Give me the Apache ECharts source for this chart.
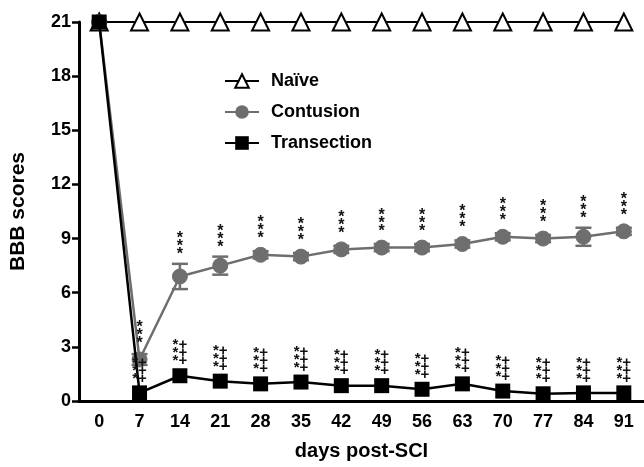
<!DOCTYPE html>
<html>
<head>
<meta charset="utf-8">
<script src="https://cdn.jsdelivr.net/npm/echarts@6/dist/echarts.min.js"></script>
<style>
  html, body { margin: 0; padding: 0; background: #fff; }
  #chart { width: 644px; height: 467px; }
</style>
</head>
<body>
<div id="chart"></div>
<script>
const days = ['0', '7', '14', '21', '28', '35', '42', '49', '56', '63', '70', '77', '84', '91']
const naive = [21, 21, 21, 21, 21, 21, 21, 21, 21, 21, 21, 21, 21, 21]
const contusion = [21, 2.3, 6.9, 7.5, 8.1, 8.0, 8.4, 8.5, 8.5, 8.7, 9.1, 9.0, 9.1, 9.4]
const contusionErr = [0, 0.3, 0.7, 0.5, 0.2, 0.2, 0.2, 0.2, 0.2, 0.2, 0.2, 0.2, 0.5, 0.2]
const transection = [21, 0.45, 1.4, 1.1, 0.95, 1.05, 0.85, 0.85, 0.65, 0.95, 0.55, 0.4, 0.45, 0.45]

const FONT = '"Liberation Sans", Arial, sans-serif'
const GRAY = '#6e6e6e'

const chart = echarts.init(document.getElementById('chart'))

// stars above contusion points, stars + plusses above transection points
const starLabel = (text, extra) => ({
  show: true,
  position: 'top',
  formatter: text,
  color: '#111',
  fontFamily: FONT,
  fontWeight: 'bold',
  fontSize: 16,
  lineHeight: 8,
  ...extra
})

const contusionData = contusion.map((v, i) => ({
  value: v,
  label: i === 0 ? { show: false } : starLabel('*\n*\n*', { distance: Math.max(4, contusionErr[i] * 18 - 3) })
}))

const transectionData = transection.map((v, i) => ({
  value: v,
  label: i === 0 ? { show: false } : starLabel('*+\n*+\n*+', { distance: 3, fontSize: 15 })
}))

const errData = contusion.map((v, i) => [i, v - contusionErr[i], v + contusionErr[i]])

const option = {
  animation: false,
  grid: { left: 77, right: 0, top: 22, bottom: 66 },
  legend: {
    data: ['Naïve', 'Contusion', 'Transection'],
    orient: 'vertical',
    left: 219,
    top: 67,
    itemWidth: 34,
    itemHeight: 17,
    itemGap: 13,
    textStyle: { fontFamily: FONT, fontWeight: 'bold', fontSize: 18, color: '#000', padding: [0, 0, 0, 7] }
  },
  xAxis: {
    type: 'category',
    data: days,
    boundaryGap: true,
    name: 'days post-SCI',
    nameLocation: 'middle',
    nameGap: 40,
    nameTextStyle: { fontFamily: FONT, fontWeight: 'bold', fontSize: 20, color: '#000' },
    axisLine: { lineStyle: { color: '#000', width: 3 } },
    axisTick: { alignWithLabel: true, length: 8, lineStyle: { width: 2.5, color: '#000' } },
    axisLabel: { fontFamily: FONT, fontWeight: 'bold', fontSize: 18, color: '#000', margin: 12 },
    splitLine: { show: false }
  },
  yAxis: {
    type: 'value',
    min: 0,
    max: 21,
    interval: 3,
    name: 'BBB scores',
    nameLocation: 'middle',
    nameGap: 50,
    nameRotate: 90,
    nameTextStyle: { fontFamily: FONT, fontWeight: 'bold', fontSize: 21, color: '#000' },
    axisLine: { show: true, lineStyle: { color: '#000', width: 3 } },
    axisTick: { show: true, length: 7, lineStyle: { width: 2.5, color: '#000' } },
    axisLabel: { fontFamily: FONT, fontWeight: 'bold', fontSize: 18, color: '#000', margin: 8 },
    splitLine: { show: false }
  },
  series: [
    {
      name: 'Naïve',
      type: 'line',
      data: naive,
      symbol: 'triangle',
      symbolSize: 17,
      z: 3,
      itemStyle: { color: '#fff', borderColor: '#000', borderWidth: 2 },
      lineStyle: { color: '#000', width: 2 }
    },
    {
      name: 'contusion-err',
      type: 'custom',
      data: errData,
      z: 2,
      renderItem: (params, api) => {
        const lo = api.coord([api.value(0), api.value(1)])
        const hi = api.coord([api.value(0), api.value(2)])
        const w = 8
        const style = { stroke: GRAY, lineWidth: 2.5, fill: null }
        return {
          type: 'group',
          children: [
            { type: 'line', shape: { x1: lo[0], y1: lo[1], x2: hi[0], y2: hi[1] }, style },
            { type: 'line', shape: { x1: lo[0] - w, y1: lo[1], x2: lo[0] + w, y2: lo[1] }, style },
            { type: 'line', shape: { x1: hi[0] - w, y1: hi[1], x2: hi[0] + w, y2: hi[1] }, style }
          ]
        }
      }
    },
    {
      name: 'Contusion',
      type: 'line',
      data: contusionData,
      symbol: 'circle',
      symbolSize: 15,
      z: 4,
      itemStyle: { color: GRAY, borderColor: GRAY },
      lineStyle: { color: GRAY, width: 2.5 }
    },
    {
      name: 'Transection',
      type: 'line',
      data: transectionData,
      symbol: 'rect',
      symbolSize: 15,
      z: 5,
      itemStyle: { color: '#000' },
      lineStyle: { color: '#000', width: 2.5 }
    }
  ]
}

chart.setOption(option)
</script>
</body>
</html>
